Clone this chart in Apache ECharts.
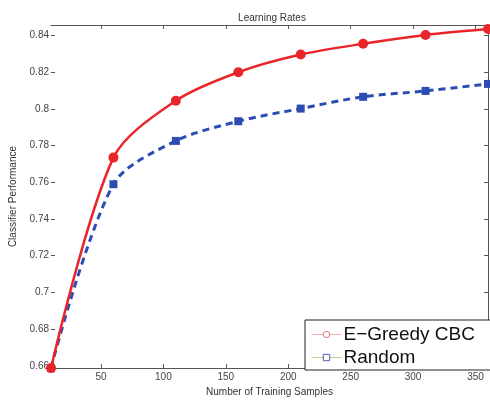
<!DOCTYPE html>
<html>
<head>
<meta charset="utf-8">
<script src="https://cdn.jsdelivr.net/npm/echarts@6/dist/echarts.min.js"></script>
<style>html,body{margin:0;padding:0;background:#fff}#c{width:490px;height:402px}</style>
</head>
<body>
<div id="c"></div>
<script>
const samples = [10, 60, 110, 160, 210, 260, 310, 360];
const greedy = [0.6588, 0.7734, 0.8044, 0.8199, 0.8295, 0.8354, 0.8402, 0.8434];
const random = [0.6588, 0.7589, 0.7825, 0.7932, 0.8001, 0.8065, 0.8097, 0.8135];
const xTicks = [50, 100, 150, 200, 250, 300, 350];
const yTicks = [0.66, 0.68, 0.7, 0.72, 0.74, 0.76, 0.78, 0.8, 0.82, 0.84];
const seriesNames = ['E−Greedy CBC', 'Random'];

const chart = echarts.init(document.getElementById('c'));
const font = 'Liberation Sans, Arial, sans-serif';
const pair = arr => samples.map((x, i) => [x, arr[i]]);
chart.setOption({
  animation: false,
  backgroundColor: '#fff',
  textStyle: { fontFamily: font },
  title: {
    text: 'Learning Rates', left: 267, top: 8, textAlign: 'center',
    textStyle: { fontSize: 10, fontWeight: 'normal', color: '#333', fontFamily: font }
  },
  grid: { left: 47, right: 2, top: 25, bottom: 28 },
  legend: {
    left: 305, top: 320, width: 200, orient: 'vertical',
    padding: [5, 20, 3, 6], itemGap: 4,
    borderColor: '#222', borderWidth: 1, backgroundColor: '#fff',
    itemWidth: 30, itemHeight: 8,
    textStyle: { fontSize: 19, color: '#111', fontFamily: font, padding: [0, 0, 0, -3] },
    data: [
      { name: seriesNames[0], itemStyle: { color: '#fff', borderColor: '#e87070', borderWidth: 1 }, lineStyle: { color: '#f0b0b0', width: 1, type: 'solid' } },
      { name: seriesNames[1], itemStyle: { color: '#fff', borderColor: '#5060b0', borderWidth: 1 }, lineStyle: { color: '#c8c890', width: 1, type: 'solid' } }
    ]
  },
  xAxis: [{
    type: 'value', min: 10, max: 360,
    name: 'Number of Training Samples', nameLocation: 'middle', nameGap: 17,
    nameTextStyle: { fontSize: 10, color: '#333', fontFamily: font },
    axisLine: { show: true, lineStyle: { color: '#555', width: 1 } },
    axisTick: { show: true, inside: true, length: 4, customValues: xTicks, lineStyle: { color: '#555' } },
    axisLabel: { customValues: xTicks, fontSize: 10, color: '#444', margin: 4 },
    splitLine: { show: false }
  }, {
    type: 'value', min: 10, max: 360, position: 'top',
    axisLine: { show: true, lineStyle: { color: '#555', width: 1 } },
    axisTick: { show: true, inside: true, length: 4, customValues: xTicks, lineStyle: { color: '#555' } },
    axisLabel: { show: false },
    splitLine: { show: false }
  }],
  yAxis: [{
    type: 'value', min: 0.6588, max: 0.8456,
    name: 'Classifier Performance', nameLocation: 'middle', nameGap: 33, nameRotate: 90,
    nameTextStyle: { fontSize: 10, color: '#333', fontFamily: font },
    axisLine: { show: false },
    axisTick: { show: true, inside: true, length: 4, customValues: yTicks, lineStyle: { color: '#555' } },
    axisLabel: { customValues: yTicks, fontSize: 10, color: '#444', margin: 2, formatter: v => String(+v.toFixed(2)) },
    splitLine: { show: false }
  }, {
    type: 'value', min: 0.6588, max: 0.8456, position: 'right',
    axisLine: { show: true, lineStyle: { color: '#555', width: 1 } },
    axisTick: { show: true, inside: true, length: 4, customValues: yTicks, lineStyle: { color: '#555' } },
    axisLabel: { show: false },
    splitLine: { show: false }
  }],
  series: [{
    name: seriesNames[1], type: 'line', data: pair(random), smooth: 0.3,
    symbol: 'rect', symbolSize: 8, showAllSymbol: true, clip: false,
    itemStyle: { color: '#2b4db3' },
    lineStyle: { color: '#2b4db3', width: 3, type: [7, 5] }
  }, {
    name: seriesNames[0], type: 'line', data: pair(greedy), smooth: 0.3,
    symbol: 'circle', symbolSize: 10, showAllSymbol: true, clip: false,
    itemStyle: { color: '#e8262a' },
    lineStyle: { color: '#e8262a', width: 2.5 }
  }]
});
</script>
</body>
</html>
